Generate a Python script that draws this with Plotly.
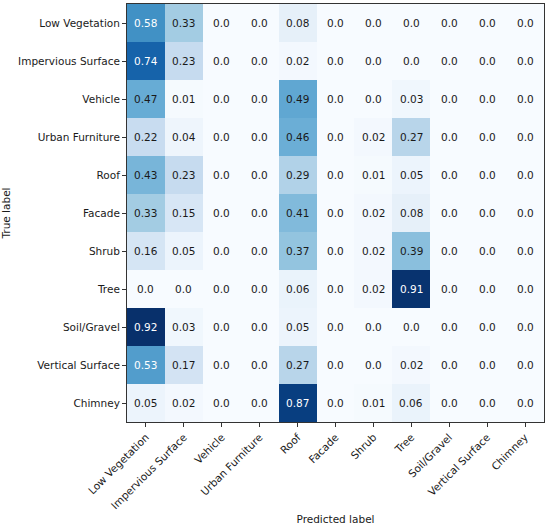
import plotly.graph_objects as go

labels = ["Low Vegetation", "Impervious Surface", "Vehicle", "Urban Furniture", "Roof",
          "Facade", "Shrub", "Tree", "Soil/Gravel", "Vertical Surface", "Chimney"]

row_low_vegetation = [0.58, 0.33, 0.0, 0.0, 0.08, 0.0, 0.0, 0.0, 0.0, 0.0, 0.0]
row_impervious = [0.74, 0.23, 0.0, 0.0, 0.02, 0.0, 0.0, 0.0, 0.0, 0.0, 0.0]
row_vehicle = [0.47, 0.01, 0.0, 0.0, 0.49, 0.0, 0.0, 0.03, 0.0, 0.0, 0.0]
row_urban_furniture = [0.22, 0.04, 0.0, 0.0, 0.46, 0.0, 0.02, 0.27, 0.0, 0.0, 0.0]
row_roof = [0.43, 0.23, 0.0, 0.0, 0.29, 0.0, 0.01, 0.05, 0.0, 0.0, 0.0]
row_facade = [0.33, 0.15, 0.0, 0.0, 0.41, 0.0, 0.02, 0.08, 0.0, 0.0, 0.0]
row_shrub = [0.16, 0.05, 0.0, 0.0, 0.37, 0.0, 0.02, 0.39, 0.0, 0.0, 0.0]
row_tree = [0.0, 0.0, 0.0, 0.0, 0.06, 0.0, 0.02, 0.91, 0.0, 0.0, 0.0]
row_soil = [0.92, 0.03, 0.0, 0.0, 0.05, 0.0, 0.0, 0.0, 0.0, 0.0, 0.0]
row_vertical = [0.53, 0.17, 0.0, 0.0, 0.27, 0.0, 0.0, 0.02, 0.0, 0.0, 0.0]
row_chimney = [0.05, 0.02, 0.0, 0.0, 0.87, 0.0, 0.01, 0.06, 0.0, 0.0, 0.0]

matrix = [row_low_vegetation, row_impervious, row_vehicle, row_urban_furniture, row_roof,
          row_facade, row_shrub, row_tree, row_soil, row_vertical, row_chimney]

blues = ["#f7fbff", "#deebf7", "#c6dbef", "#9ecae1", "#6baed6",
         "#4292c6", "#2171b5", "#08519c", "#08306b"]
colorscale = [[i / (len(blues) - 1), c] for i, c in enumerate(blues)]

zmax = max(max(r) for r in matrix)

fig = go.Figure(go.Heatmap(
    z=matrix, x=labels, y=labels, colorscale=colorscale,
    zmin=0, zmax=zmax, showscale=False, xgap=0, ygap=0,
))

font = "DejaVu Sans, sans-serif"
annotations = []
for i, row in enumerate(matrix):
    for j, v in enumerate(row):
        annotations.append(dict(
            x=labels[j], y=labels[i], text=str(v), showarrow=False,
            font=dict(family=font, size=10.5,
                      color="white" if v > 0.5 else "#1a1a1a"),
        ))

axis_common = dict(
    showline=True, linecolor="#333333", linewidth=1, mirror=True,
    ticks="outside", ticklen=4, tickcolor="#333333", tickwidth=1,
    showgrid=False, zeroline=False, automargin=False,
    tickfont=dict(family=font, size=10.5, color="#1a1a1a"),
)

fig.update_layout(
    width=550, height=525,
    margin=dict(l=127, r=6, t=4, b=103),
    paper_bgcolor="white", plot_bgcolor="white",
    annotations=annotations,
    xaxis=dict(**axis_common, tickangle=-45,
               title=dict(text="Predicted label",
                          font=dict(family=font, size=10.5, color="#1a1a1a"))),
    yaxis=dict(**axis_common, autorange="reversed",
               title=dict(text="True label",
                          font=dict(family=font, size=10.5, color="#1a1a1a"))),
)

fig.write_html("out.html", config={"displayModeBar": False},
               post_script="document.body.style.margin='0';")
